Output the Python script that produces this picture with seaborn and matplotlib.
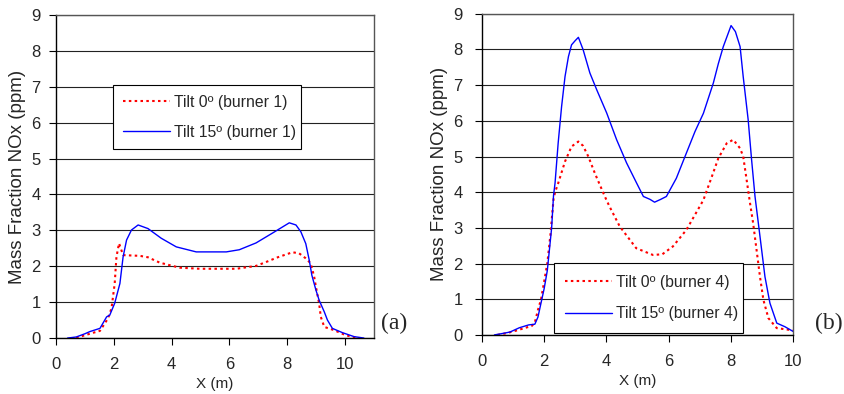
import pandas as pd
import matplotlib

matplotlib.use("Agg")

import matplotlib.pyplot as plt
import seaborn as sns

# panel (a): burner 1
a_tilt0_x = [0.7, 1.0, 1.3, 1.52, 1.8, 1.92, 2.03, 2.09, 2.18, 2.32, 2.9, 3.18, 3.59, 3.93, 4.28,
             4.97, 6.24, 6.92, 7.21, 7.67, 8.18, 8.41, 8.64, 8.81, 8.93, 8.99, 9.1, 9.16, 9.28,
             9.62, 10.02, 10.31, 10.5]
a_tilt0_y = [0.0, 0.08, 0.15, 0.2, 0.55, 0.83, 1.52, 2.26, 2.64, 2.31, 2.29, 2.25, 2.1, 2.03, 1.96,
             1.93, 1.93, 2.01, 2.1, 2.25, 2.39, 2.36, 2.22, 2.08, 1.71, 1.43, 0.97, 0.59, 0.31,
             0.22, 0.08, 0.02, 0.0]
a_tilt15_x = [0.4, 0.7, 1.0, 1.17, 1.52, 1.75, 1.86, 2.03, 2.21, 2.32, 2.44, 2.61, 2.84, 3.18,
              3.64, 4.16, 4.85, 5.89, 6.34, 6.92, 7.5, 8.07, 8.3, 8.47, 8.64, 8.76, 8.85, 8.99,
              9.1, 9.28, 9.39, 9.56, 9.91, 10.31, 10.65]
a_tilt15_y = [0.0, 0.03, 0.12, 0.18, 0.27, 0.59, 0.64, 0.97, 1.52, 2.26, 2.73, 3.01, 3.15, 3.05,
              2.78, 2.54, 2.4, 2.4, 2.46, 2.65, 2.93, 3.21, 3.15, 2.96, 2.63, 2.17, 1.75, 1.34,
              1.06, 0.73, 0.5, 0.27, 0.15, 0.04, 0.0]

# panel (b): burner 4
b_tilt0_x = [0.5, 0.8, 1.1, 1.4, 1.6, 1.7, 1.8, 1.9, 2.0, 2.1, 2.2, 2.3, 2.35, 2.45, 2.67, 2.88,
             3.1, 3.25, 3.42, 3.63, 3.95, 4.1, 4.43, 4.96, 5.5, 5.8, 6.14, 6.57, 7.12, 7.43, 7.6,
             7.87, 8.08, 8.3, 8.4, 8.51, 8.62, 8.72, 8.83, 8.94, 9.05, 9.21, 9.48, 9.9, 10.0]
b_tilt0_y = [0.0, 0.05, 0.12, 0.2, 0.25, 0.35, 0.7, 1.0, 1.5, 2.0, 2.8, 3.8, 4.0, 4.25, 4.86, 5.28,
             5.42, 5.3, 5.0, 4.53, 3.88, 3.6, 3.04, 2.43, 2.24, 2.26, 2.48, 2.94, 3.78, 4.53, 4.95,
             5.37, 5.47, 5.23, 5.0, 4.35, 3.69, 3.13, 2.38, 1.63, 0.98, 0.47, 0.19, 0.14, 0.12]
b_tilt15_x = [0.4, 0.6, 0.9, 1.2, 1.5, 1.7, 1.8, 1.9, 2.0, 2.1, 2.24, 2.3, 2.35, 2.45, 2.56, 2.67,
              2.78, 2.88, 3.0, 3.1, 3.25, 3.47, 3.69, 4.01, 4.33, 4.65, 4.97, 5.19, 5.4, 5.55, 5.75,
              5.93, 6.25, 6.57, 6.85, 7.12, 7.44, 7.6, 7.76, 8.01, 8.15, 8.3, 8.4, 8.56, 8.67,
              8.78, 8.94, 9.1, 9.26, 9.48, 9.74, 10.0]
b_tilt15_y = [0.0, 0.03, 0.08, 0.2, 0.28, 0.3, 0.5, 0.9, 1.3, 1.8, 3.0, 3.9, 4.26, 5.38, 6.4, 7.24,
              7.8, 8.13, 8.25, 8.34, 8.0, 7.34, 6.87, 6.22, 5.47, 4.82, 4.26, 3.88, 3.8, 3.72, 3.8,
              3.88, 4.39, 5.09, 5.7, 6.21, 7.06, 7.6, 8.08, 8.67, 8.5, 8.08, 7.24, 6.03, 4.91,
              3.88, 2.76, 1.63, 0.89, 0.33, 0.23, 0.1]

sns.set_style("white")
plt.rcParams['font.family'] = ['Liberation Sans', 'DejaVu Sans']

fig = plt.figure(figsize=(8.45, 3.94), dpi=100)
ax_a = fig.add_axes([0.0663, 0.142, 0.3763, 0.820])
ax_b = fig.add_axes([0.5704, 0.150, 0.368, 0.815])


def draw_panel(ax, x0, y0, x15, y15, burner, xmax, ypad, loc, bpad, lspace, tag, tag_xy):
    d0 = pd.DataFrame({'x': x0, 'y': y0})
    d15 = pd.DataFrame({'x': x15, 'y': y15})
    sns.lineplot(data=d0, x='x', y='y', ax=ax, color='#ff0000', lw=1.5,
                 linestyle=(0, (1.2, 1.6)), label=f'Tilt 0º (burner {burner})', sort=False)
    sns.lineplot(data=d15, x='x', y='y', ax=ax, color='#0000ff', lw=1.0,
                 label=f'Tilt 15º (burner {burner})', sort=False)
    ax.set_xlim(0, xmax)
    ax.set_ylim(0, 9)
    ax.set_xticks(range(0, 11, 2))
    ax.set_yticks(range(0, 10))
    ax.yaxis.grid(True, color='#222222', lw=0.8)
    ax.set_axisbelow(True)
    for s in ['left', 'bottom']:
        ax.spines[s].set_color('black')
        ax.spines[s].set_linewidth(1.0)
    for s in ['top', 'right']:
        ax.spines[s].set_color('#555555')
        ax.spines[s].set_linewidth(1.0)
    ax.tick_params(axis='both', direction='out', length=5, width=0.8, color='black',
                   labelsize=12, bottom=True, left=True)
    ax.tick_params(axis='x', pad=9)
    ax.tick_params(axis='y', pad=ypad)
    ax.set_xlabel('X (m)', fontsize=11, labelpad=3)
    ax.set_ylabel('Mass Fraction NOx (ppm)', fontsize=13.5, labelpad=4)
    leg = ax.legend(loc='lower left', bbox_to_anchor=loc, mode='expand', fontsize=11.3,
                    frameon=True, fancybox=False, edgecolor='black', framealpha=1,
                    handlelength=3.0, handletextpad=0.25, borderpad=bpad, labelspacing=lspace,
                    borderaxespad=0)
    leg.get_frame().set_linewidth(0.8)
    fig.text(tag_xy[0], tag_xy[1], tag, family='Liberation Serif', fontsize=17,
             ha='left', va='center')


draw_panel(ax_a, a_tilt0_x, a_tilt0_y, a_tilt15_x, a_tilt15_y, 1, 11, 6,
           (0.18, 0.585, 0.59, 0.195), 0.6, 0.95, '(a)', (381 / 845, 1 - 323 / 394))
draw_panel(ax_b, b_tilt0_x, b_tilt0_y, b_tilt15_x, b_tilt15_y, 4, 10, 9,
           (0.23, 0.006, 0.61, 0.218), 0.75, 1.05, '(b)', (815 / 845, 1 - 323 / 394))

fig.savefig('out.png', dpi=100)
